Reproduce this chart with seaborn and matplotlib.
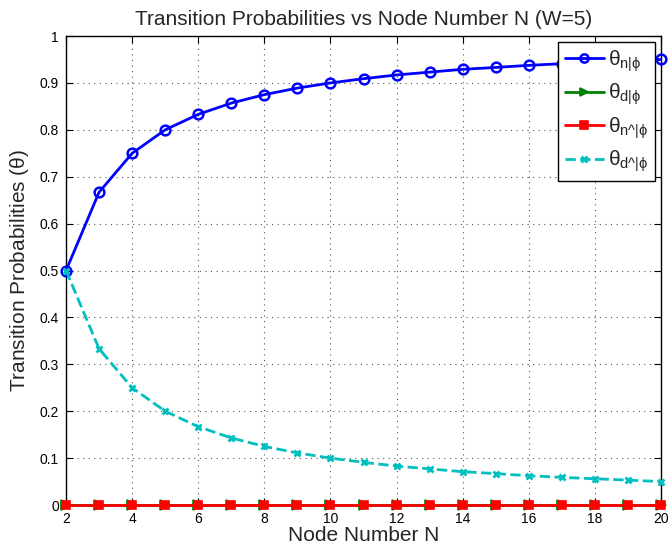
import matplotlib
matplotlib.use("Agg")
import matplotlib.pyplot as plt
import seaborn as sns
import pandas as pd

sns.set_style("ticks")
plt.rcParams['font.family'] = ['Liberation Sans', 'DejaVu Sans']
plt.rcParams['mathtext.fontset'] = 'custom'
plt.rcParams['mathtext.rm'] = 'Liberation Sans'
plt.rcParams['mathtext.it'] = 'Liberation Sans'
plt.rcParams['mathtext.bf'] = 'Liberation Sans:bold'

N = [2, 3, 4, 5, 6, 7, 8, 9, 10, 11, 12, 13, 14, 15, 16, 17, 18, 19, 20]
theta_n = [0.5, 0.667, 0.75, 0.8, 0.833, 0.857, 0.875, 0.889, 0.9, 0.909,
           0.917, 0.923, 0.929, 0.933, 0.9375, 0.941, 0.944, 0.947, 0.95]
theta_d = [0.0] * 19
theta_nhat = [0.0] * 19
theta_dhat = [0.5, 0.333, 0.25, 0.2, 0.167, 0.143, 0.125, 0.111, 0.1, 0.091,
              0.083, 0.077, 0.071, 0.067, 0.0625, 0.059, 0.056, 0.053, 0.05]

labels = [r'$\theta_{n|\phi}$', r'$\theta_{d|\phi}$',
          r'$\theta_{\text{n^|}\phi}$', r'$\theta_{\text{d^|}\phi}$']

fig = plt.figure(figsize=(6.69, 5.5), dpi=100)
ax = fig.add_axes([0.0987, 0.0818, 0.8893, 0.8527])

styles = [
    dict(y=theta_n, color='#0000ff', marker='o', ls='-', mfc='none', ms=7, mew=1.8),
    dict(y=theta_d, color='#008000', marker='>', ls='-', mfc='#008000', ms=7, mew=1.2),
    dict(y=theta_nhat, color='#ff0000', marker='s', ls='-', mfc='#ff0000', ms=6, mew=1.2),
    dict(y=theta_dhat, color='#00bfbf', marker='x', ls='--', mfc='#00bfbf', ms=5, mew=2),
]
for lab, st in zip(labels, styles):
    df = pd.DataFrame({'N': N, 'v': st['y']})
    sns.lineplot(data=df, x='N', y='v', ax=ax, color=st['color'], marker=st['marker'],
                 linestyle=st['ls'], markerfacecolor=st['mfc'], markeredgecolor=st['color'],
                 markersize=st['ms'], markeredgewidth=st['mew'], linewidth=2,
                 label=lab, clip_on=False, zorder=3)

ax.set_xlim(2, 20)
ax.set_ylim(0, 1)
ax.set_xticks(range(2, 21, 2))
ax.set_yticks([i / 10 for i in range(11)])
ax.set_yticklabels(['0', '0.1', '0.2', '0.3', '0.4', '0.5', '0.6', '0.7', '0.8', '0.9', '1'])
ax.tick_params(direction='in', top=True, right=True, labelsize=10, length=5, width=0.8,
               colors='black', pad=5)
ax.grid(True, linestyle=(0, (1, 4)), color='#555555', linewidth=0.8)
for s in ax.spines.values():
    s.set_linewidth(1.0)
    s.set_color('black')

ax.set_title('Transition Probabilities vs Node Number N (W=5)', fontsize=15, pad=8)
ax.set_xlabel('Node Number N', fontsize=15, labelpad=0)
ax.set_ylabel(r'Transition Probabilities ($\theta$)', fontsize=15, labelpad=6)

leg = ax.legend(loc='upper right', fontsize=15, frameon=True, fancybox=False,
                edgecolor='black', framealpha=1, handlelength=1.9, handletextpad=0.2,
                borderaxespad=0.3, borderpad=0.3, labelspacing=0.38, numpoints=1,
                markerscale=0.85)
leg.get_frame().set_linewidth(1.0)

fig.savefig('out.png', dpi=100)
